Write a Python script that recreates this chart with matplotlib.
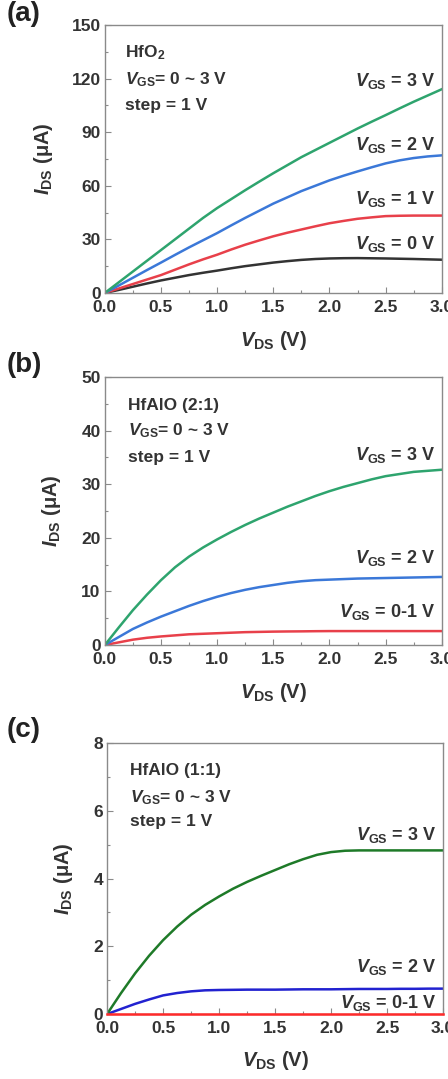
import matplotlib
matplotlib.use("Agg")
import matplotlib.pyplot as plt
from matplotlib.ticker import MultipleLocator, AutoMinorLocator

plt.rcParams['font.family'] = ['Liberation Sans', 'DejaVu Sans']
plt.rcParams['font.weight'] = 'bold'
plt.rcParams['mathtext.fontset'] = 'custom'
plt.rcParams['mathtext.rm'] = 'Liberation Sans:bold'
plt.rcParams['mathtext.bf'] = 'Liberation Sans:bold'
plt.rcParams['mathtext.it'] = 'Liberation Sans:italic:bold'

# ---------------- data ----------------
vds = [0.0, 0.125, 0.25, 0.375, 0.5, 0.625, 0.75, 0.875, 1.0, 1.125, 1.25, 1.375,
       1.5, 1.625, 1.75, 1.875, 2.0, 2.125, 2.25, 2.375, 2.5, 2.625, 2.75, 2.875, 3.0]

# (a) HfO2
a_vgs3 = [0, 6, 12, 18, 24, 30, 36, 42, 47.5, 52.5, 57.5, 62.3, 67, 71.5, 76, 80, 84,
          88, 92, 95.8, 99.5, 103.3, 107, 110.5, 114]
a_vgs2 = [0, 4.2, 8.5, 12.8, 17, 21.3, 25.5, 29.5, 33.5, 37.8, 42, 46, 50, 53.5, 57, 60,
          63, 65.6, 68, 70.3, 72.5, 74.2, 75.5, 76.4, 77]
a_vgs1 = [0, 2.5, 5, 7.5, 10, 13, 16, 18.8, 21.4, 24.3, 27, 29.4, 31.7, 33.7, 35.5, 37.3,
          39, 40.3, 41.5, 42.3, 43, 43.2, 43.3, 43.3, 43.3]
a_vgs0 = [0, 1.7, 3.5, 5.3, 7, 8.5, 10, 11.3, 12.5, 13.8, 15, 16, 17, 17.8, 18.5, 19,
          19.3, 19.45, 19.5, 19.4, 19.3, 19.15, 19, 18.8, 18.6]

# (b) HfAlO (2:1)
b_vgs3 = [0, 3.3, 6.5, 9.4, 12.1, 14.5, 16.5, 18.2, 19.7, 21.1, 22.4, 23.6, 24.7, 25.8,
          26.8, 27.8, 28.7, 29.5, 30.2, 30.9, 31.5, 31.9, 32.3, 32.5, 32.7]
b_vgs2 = [0, 1.5, 3, 4.2, 5.3, 6.3, 7.3, 8.2, 9, 9.7, 10.3, 10.8, 11.2, 11.6, 11.9, 12.1,
          12.2, 12.3, 12.4, 12.45, 12.5, 12.55, 12.6, 12.65, 12.7]
b_vgs01 = [0, 0.5, 1.0, 1.35, 1.6, 1.8, 2.0, 2.1, 2.2, 2.3, 2.4, 2.45, 2.5, 2.53, 2.55,
           2.58, 2.6, 2.6, 2.6, 2.6, 2.6, 2.6, 2.6, 2.6, 2.6]

# (c) HfAlO (1:1)
c_vgs3 = [0, 0.62, 1.2, 1.72, 2.18, 2.58, 2.93, 3.22, 3.47, 3.7, 3.9, 4.08, 4.25, 4.42,
          4.57, 4.7, 4.78, 4.82, 4.83, 4.83, 4.83, 4.83, 4.83, 4.83, 4.83]
c_vgs2 = [0, 0.15, 0.3, 0.43, 0.55, 0.62, 0.67, 0.7, 0.71, 0.715, 0.72, 0.72, 0.72, 0.725,
          0.73, 0.73, 0.73, 0.735, 0.74, 0.74, 0.74, 0.745, 0.745, 0.75, 0.75]
c_vgs01 = [0] * 25

xticks = [0.0, 0.5, 1.0, 1.5, 2.0, 2.5, 3.0]
xticklabels = ['0.0', '0.5', '1.0', '1.5', '2.0', '2.5', '3.0']

fig = plt.figure(figsize=(4.48, 10.79), dpi=100)

TXT = '#333333'
SPINE = '#8a8a8a'

def style(ax, ymax, ystep, ylabcoord, xlabcoord):
    ax.set_xlim(0, 3.0)
    ax.set_ylim(0, ymax)
    ax.set_xticks(xticks)
    ax.set_xticklabels(xticklabels)
    ax.yaxis.set_major_locator(MultipleLocator(ystep))
    ax.xaxis.set_minor_locator(AutoMinorLocator(2))
    ax.yaxis.set_minor_locator(AutoMinorLocator(2))
    ax.tick_params(which='both', direction='in', colors=SPINE, labelcolor=TXT,
                   labelsize=12.5, top=False, right=False)
    ax.tick_params(which='major', length=4, width=0.8)
    ax.tick_params(axis='x', which='major', pad=5)
    ax.tick_params(axis='y', which='major', pad=3)
    ax.tick_params(which='minor', length=2.5, width=0.8)
    for lab in ax.get_xticklabels() + ax.get_yticklabels():
        lab.set_fontweight('bold')
    for s in ax.spines.values():
        s.set_color(SPINE)
        s.set_linewidth(1.0)
    ax.set_ylabel(r'$I_{\rm DS}$ (μA)', fontsize=14.5, color=TXT, fontweight='bold')
    ax.set_xlabel(r'$V_{\rm DS}$ (V)', fontsize=14.5, color=TXT, fontweight='bold')
    ax.yaxis.set_label_coords(ylabcoord, 0.5)
    ax.xaxis.set_label_coords(0.5, xlabcoord)

def info(ax, name, x, ys):
    for y, s in zip(ys, [name, r'$V_{\rm GS}$= 0 ~ 3 V', 'step = 1 V']):
        ax.text(x, y, s, transform=ax.transAxes, fontsize=12.5, color=TXT,
                fontweight='bold', va='center', ha='left')

def curve_label(ax, y, s):
    ax.text(2.94, y, r'$V_{\rm GS}$ = ' + s, fontsize=13, color=TXT,
            fontweight='bold', ha='right', va='center')

lw = 1.8

# ---- (a)
ax1 = fig.add_axes([0.234, 0.7285, 0.752, 0.2484])
ax1.plot(vds, a_vgs0, color='#333333', lw=lw)
ax1.plot(vds, a_vgs1, color='#e8404a', lw=lw)
ax1.plot(vds, a_vgs2, color='#3b78d8', lw=lw)
ax1.plot(vds, a_vgs3, color='#2ea46e', lw=lw)
style(ax1, 150, 30, -0.148, -0.135)
info(ax1, r'HfO$_{\rm 2}$', 0.06, [0.895, 0.795, 0.70])
curve_label(ax1, 118.6, '3 V')
curve_label(ax1, 82.8, '2 V')
curve_label(ax1, 52.6, '1 V')
curve_label(ax1, 27.4, '0 V')

# ---- (b)
ax2 = fig.add_axes([0.234, 0.4022, 0.752, 0.2484])
ax2.plot(vds, b_vgs01, color='#e8404a', lw=lw)
ax2.plot(vds, b_vgs2, color='#3b78d8', lw=lw)
ax2.plot(vds, b_vgs3, color='#2ea46e', lw=lw)
style(ax2, 50, 10, -0.125, -0.135)
info(ax2, 'HfAlO (2:1)', 0.068, [0.895, 0.80, 0.70])
curve_label(ax2, 35.4, '3 V')
curve_label(ax2, 16.2, '2 V')
curve_label(ax2, 6.2, '0-1 V')

# ---- (c)
ax3 = fig.add_axes([0.239, 0.0602, 0.75, 0.2512])
ax3.plot(vds, c_vgs01, color='#ff2a2a', lw=lw, clip_on=False, zorder=5)
ax3.plot(vds, c_vgs2, color='#2222d0', lw=lw)
ax3.plot(vds, c_vgs3, color='#1e7a28', lw=lw)
style(ax3, 8, 2, -0.095, -0.13)
info(ax3, 'HfAlO (1:1)', 0.068, [0.898, 0.80, 0.71])
curve_label(ax3, 5.28, '3 V')
curve_label(ax3, 1.39, '2 V')
curve_label(ax3, 0.33, '0-1 V')

# panel letters
for ypx, s in [(14, '(a)'), (365, '(b)'), (730, '(c)')]:
    fig.text(24 / 448, 1 - ypx / 1079, s, fontsize=20, fontweight='bold',
             ha='center', va='center', color='#222222')

fig.savefig('out.png', dpi=100)
